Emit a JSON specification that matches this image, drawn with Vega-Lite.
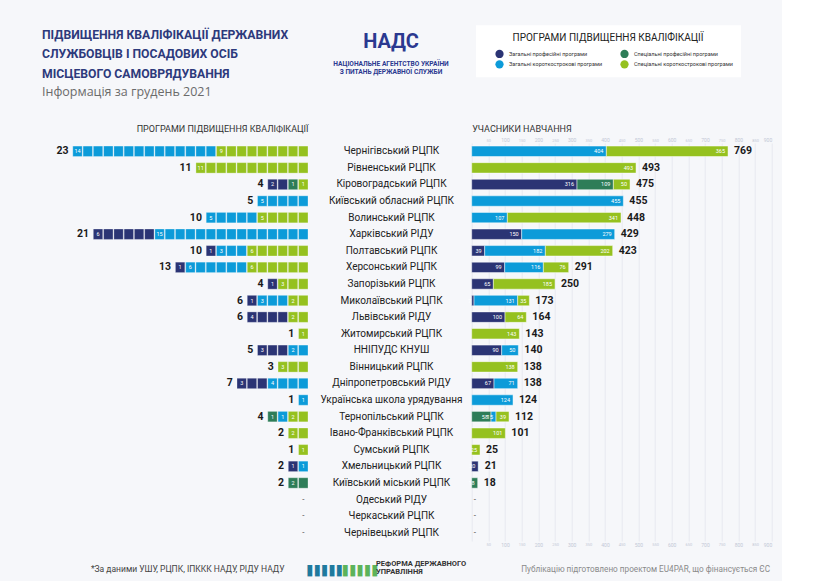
{
  "$schema": "https://vega.github.io/schema/vega-lite/v6.json",
  "background": "#f6f7fa",
  "padding": {"left": 42, "top": 25, "right": 10, "bottom": 5},
  "config": {"font": "Roboto", "view": {"stroke": null}},
  "title": {
    "text": ["ПІДВИЩЕННЯ КВАЛІФІКАЦІЇ ДЕРЖАВНИХ", "СЛУЖБОВЦІВ І ПОСАДОВИХ ОСІБ", "МІСЦЕВОГО САМОВРЯДУВАННЯ"],
    "subtitle": "Інформація за грудень 2021",
    "anchor": "start",
    "frame": "bounds",
    "orient": "top",
    "font": "Roboto",
    "fontSize": 12.2,
    "fontWeight": "bold",
    "color": "#2d3a7c",
    "lineHeight": 19.5,
    "subtitleFont": "Open Sans",
    "subtitleFontSize": 12.5,
    "subtitleColor": "#6b6b6b",
    "subtitlePadding": 6,
    "offset": -73
  },
  "datasets": {
    "cats": [
      {"c": "ЗП", "cat": "Загальні професійні програми", "k": 1},
      {"c": "СП", "cat": "Спеціальні професійні програми", "k": 2},
      {"c": "ЗК", "cat": "Загальні короткострокові програми", "k": 3},
      {"c": "СК", "cat": "Спеціальні короткострокові програми", "k": 4}
    ],
    "tot": [
      {"org": "Чернігівський РЦПК", "programs": 23, "participants": 769},
      {"org": "Рівненський РЦПК", "programs": 11, "participants": 493},
      {"org": "Кіровоградський РЦПК", "programs": 4, "participants": 475},
      {"org": "Київський обласний РЦПК", "programs": 5, "participants": 455},
      {"org": "Волинський РЦПК", "programs": 10, "participants": 448},
      {"org": "Харківський РІДУ", "programs": 21, "participants": 429},
      {"org": "Полтавський РЦПК", "programs": 10, "participants": 423},
      {"org": "Херсонський РЦПК", "programs": 13, "participants": 291},
      {"org": "Запорізький РЦПК", "programs": 4, "participants": 250},
      {"org": "Миколаївський РЦПК", "programs": 6, "participants": 173},
      {"org": "Львівський РІДУ", "programs": 6, "participants": 164},
      {"org": "Житомирський РЦПК", "programs": 1, "participants": 143},
      {"org": "ННІПУДС КНУШ", "programs": 5, "participants": 140},
      {"org": "Вінницький РЦПК", "programs": 3, "participants": 138},
      {"org": "Дніпропетровський РІДУ", "programs": 7, "participants": 138},
      {"org": "Українська школа урядування", "programs": 1, "participants": 124},
      {"org": "Тернопільський РЦПК", "programs": 4, "participants": 112},
      {"org": "Івано-Франківський РЦПК", "programs": 2, "participants": 101},
      {"org": "Сумський РЦПК", "programs": 1, "participants": 25},
      {"org": "Хмельницький РЦПК", "programs": 2, "participants": 21},
      {"org": "Київський міський РЦПК", "programs": 2, "participants": 18},
      {"org": "Одеський РІДУ", "programs": null, "participants": null},
      {"org": "Черкаський РЦПК", "programs": null, "participants": null},
      {"org": "Чернівецький РЦПК", "programs": null, "participants": null}
    ],
    "part": [
      {"org": "Чернігівський РЦПК", "c": "ЗК", "n": 404},
      {"org": "Чернігівський РЦПК", "c": "СК", "n": 365},
      {"org": "Рівненський РЦПК", "c": "СК", "n": 493},
      {"org": "Кіровоградський РЦПК", "c": "ЗП", "n": 316},
      {"org": "Кіровоградський РЦПК", "c": "СП", "n": 109},
      {"org": "Кіровоградський РЦПК", "c": "СК", "n": 50},
      {"org": "Київський обласний РЦПК", "c": "ЗК", "n": 455},
      {"org": "Волинський РЦПК", "c": "ЗК", "n": 107},
      {"org": "Волинський РЦПК", "c": "СК", "n": 341},
      {"org": "Харківський РІДУ", "c": "ЗП", "n": 150},
      {"org": "Харківський РІДУ", "c": "ЗК", "n": 279},
      {"org": "Полтавський РЦПК", "c": "ЗП", "n": 39},
      {"org": "Полтавський РЦПК", "c": "ЗК", "n": 182},
      {"org": "Полтавський РЦПК", "c": "СК", "n": 202},
      {"org": "Херсонський РЦПК", "c": "ЗП", "n": 99},
      {"org": "Херсонський РЦПК", "c": "ЗК", "n": 116},
      {"org": "Херсонський РЦПК", "c": "СК", "n": 76},
      {"org": "Запорізький РЦПК", "c": "ЗП", "n": 65},
      {"org": "Запорізький РЦПК", "c": "СК", "n": 185},
      {"org": "Миколаївський РЦПК", "c": "ЗП", "n": 7},
      {"org": "Миколаївський РЦПК", "c": "ЗК", "n": 131},
      {"org": "Миколаївський РЦПК", "c": "СК", "n": 35},
      {"org": "Львівський РІДУ", "c": "ЗП", "n": 100},
      {"org": "Львівський РІДУ", "c": "СК", "n": 64},
      {"org": "Житомирський РЦПК", "c": "СК", "n": 143},
      {"org": "ННІПУДС КНУШ", "c": "ЗП", "n": 90},
      {"org": "ННІПУДС КНУШ", "c": "ЗК", "n": 50},
      {"org": "Вінницький РЦПК", "c": "СК", "n": 138},
      {"org": "Дніпропетровський РІДУ", "c": "ЗП", "n": 67},
      {"org": "Дніпропетровський РІДУ", "c": "ЗК", "n": 71},
      {"org": "Українська школа урядування", "c": "ЗК", "n": 124},
      {"org": "Тернопільський РЦПК", "c": "СП", "n": 58},
      {"org": "Тернопільський РЦПК", "c": "ЗК", "n": 15},
      {"org": "Тернопільський РЦПК", "c": "СК", "n": 39},
      {"org": "Івано-Франківський РЦПК", "c": "СК", "n": 101},
      {"org": "Сумський РЦПК", "c": "СК", "n": 25},
      {"org": "Хмельницький РЦПК", "c": "ЗП", "n": 20},
      {"org": "Хмельницький РЦПК", "c": "ЗК", "n": 1},
      {"org": "Київський міський РЦПК", "c": "СП", "n": 18}
    ],
    "prog": [
      {"org": "Чернігівський РЦПК", "c": "ЗК"}, {"org": "Чернігівський РЦПК", "c": "ЗК"}, {"org": "Чернігівський РЦПК", "c": "ЗК"}, {"org": "Чернігівський РЦПК", "c": "ЗК"}, {"org": "Чернігівський РЦПК", "c": "ЗК"}, {"org": "Чернігівський РЦПК", "c": "ЗК"}, {"org": "Чернігівський РЦПК", "c": "ЗК"},
      {"org": "Чернігівський РЦПК", "c": "ЗК"}, {"org": "Чернігівський РЦПК", "c": "ЗК"}, {"org": "Чернігівський РЦПК", "c": "ЗК"}, {"org": "Чернігівський РЦПК", "c": "ЗК"}, {"org": "Чернігівський РЦПК", "c": "ЗК"}, {"org": "Чернігівський РЦПК", "c": "ЗК"}, {"org": "Чернігівський РЦПК", "c": "ЗК"},
      {"org": "Чернігівський РЦПК", "c": "СК"}, {"org": "Чернігівський РЦПК", "c": "СК"}, {"org": "Чернігівський РЦПК", "c": "СК"}, {"org": "Чернігівський РЦПК", "c": "СК"}, {"org": "Чернігівський РЦПК", "c": "СК"}, {"org": "Чернігівський РЦПК", "c": "СК"}, {"org": "Чернігівський РЦПК", "c": "СК"}, {"org": "Чернігівський РЦПК", "c": "СК"}, {"org": "Чернігівський РЦПК", "c": "СК"},
      {"org": "Рівненський РЦПК", "c": "СК"}, {"org": "Рівненський РЦПК", "c": "СК"}, {"org": "Рівненський РЦПК", "c": "СК"}, {"org": "Рівненський РЦПК", "c": "СК"}, {"org": "Рівненський РЦПК", "c": "СК"}, {"org": "Рівненський РЦПК", "c": "СК"}, {"org": "Рівненський РЦПК", "c": "СК"}, {"org": "Рівненський РЦПК", "c": "СК"}, {"org": "Рівненський РЦПК", "c": "СК"}, {"org": "Рівненський РЦПК", "c": "СК"}, {"org": "Рівненський РЦПК", "c": "СК"},
      {"org": "Кіровоградський РЦПК", "c": "ЗП"}, {"org": "Кіровоградський РЦПК", "c": "ЗП"}, {"org": "Кіровоградський РЦПК", "c": "СП"}, {"org": "Кіровоградський РЦПК", "c": "СК"},
      {"org": "Київський обласний РЦПК", "c": "ЗК"}, {"org": "Київський обласний РЦПК", "c": "ЗК"}, {"org": "Київський обласний РЦПК", "c": "ЗК"}, {"org": "Київський обласний РЦПК", "c": "ЗК"}, {"org": "Київський обласний РЦПК", "c": "ЗК"},
      {"org": "Волинський РЦПК", "c": "ЗК"}, {"org": "Волинський РЦПК", "c": "ЗК"}, {"org": "Волинський РЦПК", "c": "ЗК"}, {"org": "Волинський РЦПК", "c": "ЗК"}, {"org": "Волинський РЦПК", "c": "ЗК"},
      {"org": "Волинський РЦПК", "c": "СК"}, {"org": "Волинський РЦПК", "c": "СК"}, {"org": "Волинський РЦПК", "c": "СК"}, {"org": "Волинський РЦПК", "c": "СК"}, {"org": "Волинський РЦПК", "c": "СК"},
      {"org": "Харківський РІДУ", "c": "ЗП"}, {"org": "Харківський РІДУ", "c": "ЗП"}, {"org": "Харківський РІДУ", "c": "ЗП"}, {"org": "Харківський РІДУ", "c": "ЗП"}, {"org": "Харківський РІДУ", "c": "ЗП"}, {"org": "Харківський РІДУ", "c": "ЗП"},
      {"org": "Харківський РІДУ", "c": "ЗК"}, {"org": "Харківський РІДУ", "c": "ЗК"}, {"org": "Харківський РІДУ", "c": "ЗК"}, {"org": "Харківський РІДУ", "c": "ЗК"}, {"org": "Харківський РІДУ", "c": "ЗК"}, {"org": "Харківський РІДУ", "c": "ЗК"}, {"org": "Харківський РІДУ", "c": "ЗК"}, {"org": "Харківський РІДУ", "c": "ЗК"},
      {"org": "Харківський РІДУ", "c": "ЗК"}, {"org": "Харківський РІДУ", "c": "ЗК"}, {"org": "Харківський РІДУ", "c": "ЗК"}, {"org": "Харківський РІДУ", "c": "ЗК"}, {"org": "Харківський РІДУ", "c": "ЗК"}, {"org": "Харківський РІДУ", "c": "ЗК"}, {"org": "Харківський РІДУ", "c": "ЗК"},
      {"org": "Полтавський РЦПК", "c": "ЗП"}, {"org": "Полтавський РЦПК", "c": "ЗК"}, {"org": "Полтавський РЦПК", "c": "ЗК"}, {"org": "Полтавський РЦПК", "c": "ЗК"},
      {"org": "Полтавський РЦПК", "c": "СК"}, {"org": "Полтавський РЦПК", "c": "СК"}, {"org": "Полтавський РЦПК", "c": "СК"}, {"org": "Полтавський РЦПК", "c": "СК"}, {"org": "Полтавський РЦПК", "c": "СК"}, {"org": "Полтавський РЦПК", "c": "СК"},
      {"org": "Херсонський РЦПК", "c": "ЗП"}, {"org": "Херсонський РЦПК", "c": "ЗК"}, {"org": "Херсонський РЦПК", "c": "ЗК"}, {"org": "Херсонський РЦПК", "c": "ЗК"}, {"org": "Херсонський РЦПК", "c": "ЗК"}, {"org": "Херсонський РЦПК", "c": "ЗК"}, {"org": "Херсонський РЦПК", "c": "ЗК"},
      {"org": "Херсонський РЦПК", "c": "СК"}, {"org": "Херсонський РЦПК", "c": "СК"}, {"org": "Херсонський РЦПК", "c": "СК"}, {"org": "Херсонський РЦПК", "c": "СК"}, {"org": "Херсонський РЦПК", "c": "СК"}, {"org": "Херсонський РЦПК", "c": "СК"},
      {"org": "Запорізький РЦПК", "c": "ЗП"}, {"org": "Запорізький РЦПК", "c": "СК"}, {"org": "Запорізький РЦПК", "c": "СК"}, {"org": "Запорізький РЦПК", "c": "СК"},
      {"org": "Миколаївський РЦПК", "c": "ЗП"}, {"org": "Миколаївський РЦПК", "c": "ЗК"}, {"org": "Миколаївський РЦПК", "c": "ЗК"}, {"org": "Миколаївський РЦПК", "c": "ЗК"}, {"org": "Миколаївський РЦПК", "c": "СК"}, {"org": "Миколаївський РЦПК", "c": "СК"},
      {"org": "Львівський РІДУ", "c": "ЗП"}, {"org": "Львівський РІДУ", "c": "ЗП"}, {"org": "Львівський РІДУ", "c": "ЗП"}, {"org": "Львівський РІДУ", "c": "ЗП"}, {"org": "Львівський РІДУ", "c": "СК"}, {"org": "Львівський РІДУ", "c": "СК"},
      {"org": "Житомирський РЦПК", "c": "СК"},
      {"org": "ННІПУДС КНУШ", "c": "ЗП"}, {"org": "ННІПУДС КНУШ", "c": "ЗП"}, {"org": "ННІПУДС КНУШ", "c": "ЗП"}, {"org": "ННІПУДС КНУШ", "c": "ЗК"}, {"org": "ННІПУДС КНУШ", "c": "ЗК"},
      {"org": "Вінницький РЦПК", "c": "СК"}, {"org": "Вінницький РЦПК", "c": "СК"}, {"org": "Вінницький РЦПК", "c": "СК"},
      {"org": "Дніпропетровський РІДУ", "c": "ЗП"}, {"org": "Дніпропетровський РІДУ", "c": "ЗП"}, {"org": "Дніпропетровський РІДУ", "c": "ЗП"}, {"org": "Дніпропетровський РІДУ", "c": "ЗК"}, {"org": "Дніпропетровський РІДУ", "c": "ЗК"}, {"org": "Дніпропетровський РІДУ", "c": "ЗК"}, {"org": "Дніпропетровський РІДУ", "c": "ЗК"},
      {"org": "Українська школа урядування", "c": "ЗК"},
      {"org": "Тернопільський РЦПК", "c": "СП"}, {"org": "Тернопільський РЦПК", "c": "ЗК"}, {"org": "Тернопільський РЦПК", "c": "СК"}, {"org": "Тернопільський РЦПК", "c": "СК"},
      {"org": "Івано-Франківський РЦПК", "c": "СК"}, {"org": "Івано-Франківський РЦПК", "c": "СК"},
      {"org": "Сумський РЦПК", "c": "СК"},
      {"org": "Хмельницький РЦПК", "c": "ЗП"}, {"org": "Хмельницький РЦПК", "c": "ЗК"},
      {"org": "Київський міський РЦПК", "c": "СП"}, {"org": "Київський міський РЦПК", "c": "СП"}
    ]
  },
  "spacing": 163.7,
  "bounds": "flush",
  "resolve": {"scale": {"color": "shared"}, "legend": {"color": "shared"}},
  "hconcat": [
    {
      "width": 266,
      "height": 398,
      "title": {
        "text": "НАДС",
        "subtitle": ["НАЦІОНАЛЬНЕ АГЕНТСТВО УКРАЇНИ", "З ПИТАНЬ ДЕРЖАВНОЇ СЛУЖБИ"],
        "anchor": "middle",
        "frame": "group",
        "dx": 216,
        "offset": 49,
        "font": "Roboto",
        "fontSize": 20,
        "fontWeight": "bold",
        "color": "#2b3990",
        "subtitleFont": "Roboto",
        "subtitleFontSize": 6.6,
        "subtitleFontWeight": "bold",
        "subtitleColor": "#2b3990",
        "subtitleLineHeight": 7.5,
        "subtitlePadding": 9
      },
      "layer": [
        {
          "data": {"name": "prog"},
          "transform": [
            {"lookup": "c", "from": {"data": {"name": "cats"}, "key": "c", "fields": ["cat", "k"]}},
            {"window": [{"op": "row_number", "as": "rank"}], "groupby": ["org"], "sort": [{"field": "k", "order": "descending"}]}
          ],
          "mark": {"type": "rect", "stroke": "#ffffff", "strokeWidth": 0.6, "strokeOpacity": 0.5},
          "encoding": {
            "x": {
              "field": "rank", "type": "ordinal",
              "scale": {"domain": [1,2,3,4,5,6,7,8,9,10,11,12,13,14,15,16,17,18,19,20,21,22,23,24,25,26], "reverse": true, "paddingInner": 0.08, "paddingOuter": 0},
              "axis": {"orient": "top", "labels": false, "ticks": false, "domain": false, "grid": false,
                "title": "ПРОГРАМИ ПІДВИЩЕННЯ КВАЛІФІКАЦІЇ", "titleX": 266, "titleY": -11.5, "titleAlign": "right", "titleBaseline": "alphabetic", "titleAngle": 0,
                "titleFontSize": 9, "titleFontWeight": "normal", "titleColor": "#333333"}
            },
            "y": {
              "field": "org", "type": "nominal",
              "scale": {"domain": ["Чернігівський РЦПК","Рівненський РЦПК","Кіровоградський РЦПК","Київський обласний РЦПК","Волинський РЦПК","Харківський РІДУ","Полтавський РЦПК","Херсонський РЦПК","Запорізький РЦПК","Миколаївський РЦПК","Львівський РІДУ","Житомирський РЦПК","ННІПУДС КНУШ","Вінницький РЦПК","Дніпропетровський РІДУ","Українська школа урядування","Тернопільський РЦПК","Івано-Франківський РЦПК","Сумський РЦПК","Хмельницький РЦПК","Київський міський РЦПК","Одеський РІДУ","Черкаський РЦПК","Чернівецький РЦПК"], "paddingInner": 0.37, "paddingOuter": 0.185},
              "axis": {"orient": "left", "labels": false, "ticks": false, "domain": false, "grid": false,
                "title": "▋▋▋▋▋", "titleAngle": 0, "titleX": 265, "titleY": 430.9, "titleAlign": "left", "titleBaseline": "alphabetic",
                "titleFont": "DejaVu Sans", "titleFontSize": 9.6, "titleColor": "#1f7a9e", "titleFontWeight": "normal"}
            },
            "color": {
              "field": "cat", "type": "nominal",
              "scale": {"domain": ["Загальні професійні програми", "Загальні короткострокові програми", "Спеціальні професійні програми", "Спеціальні короткострокові програми"], "range": ["#2b3474", "#0c9bd9", "#2e7d58", "#95c11f"]},
              "legend": {
                "orient": "none", "legendX": 434, "legendY": -117.7,
                "title": "ПРОГРАМИ ПІДВИЩЕННЯ КВАЛІФІКАЦІЇ", "titleLimit": 400, "titleAnchor": "middle", "titleFontSize": 10, "titleFontWeight": "normal", "titleColor": "#222222", "titlePadding": 6,
                "columns": 2, "columnPadding": 6, "rowPadding": 1.5,
                "symbolType": "circle", "symbolSize": 68, "symbolStrokeWidth": 0, "symbolOpacity": 1, "symbolOffset": 11,
                "labelFontSize": 5.5, "labelColor": "#333333", "labelOffset": 5, "labelLimit": 200,
                "padding": 8, "fillColor": "#ffffff"
              }
            }
          }
        },
        {
          "data": {"name": "prog"},
          "transform": [
            {"lookup": "c", "from": {"data": {"name": "cats"}, "key": "c", "fields": ["cat", "k"]}},
            {"window": [{"op": "row_number", "as": "rank"}], "groupby": ["org"], "sort": [{"field": "k", "order": "descending"}]},
            {"joinaggregate": [{"op": "max", "field": "rank", "as": "maxr"}, {"op": "count", "as": "n"}], "groupby": ["org", "c"]},
            {"filter": "datum.rank === datum.maxr"}
          ],
          "mark": {"type": "text", "fontSize": 5.5, "color": "#ffffff", "align": "center", "baseline": "middle"},
          "encoding": {
            "x": {
              "field": "rank", "type": "ordinal",
              "axis": {"orient": "bottom", "labels": false, "ticks": false, "domain": false, "grid": false,
                "title": "*За даними УШУ, РЦПК, ІПККК НАДУ, РІДУ НАДУ", "titleX": 242, "titleY": 30.8, "titleAlign": "right", "titleBaseline": "alphabetic", "titleAngle": 0,
                "titleFontSize": 8.5, "titleFontWeight": "normal", "titleColor": "#444444"}
            },
            "y": {
              "field": "org", "type": "nominal",
              "axis": {"orient": "right", "labels": false, "ticks": false, "domain": false, "grid": false,
                "title": "▋▋▋▋▋", "titleAngle": 0, "titleX": 34.5, "titleY": 430.9, "titleAlign": "left", "titleBaseline": "alphabetic",
                "titleFont": "DejaVu Sans", "titleFontSize": 9.6, "titleColor": "#5cb35a", "titleFontWeight": "normal"}
            },
            "text": {"field": "n", "type": "quantitative"}
          }
        },
        {
          "data": {"name": "tot"},
          "transform": [{"filter": "datum.programs != null"}],
          "mark": {"type": "text", "align": "right", "baseline": "middle", "dx": -9, "fontSize": 10.5, "fontWeight": "bold", "color": "#1a1a1a"},
          "encoding": {
            "x": {"field": "programs", "type": "ordinal", "axis": null},
            "y": {"field": "org", "type": "nominal", "axis": null},
            "text": {"field": "programs", "type": "quantitative"}
          }
        },
        {
          "data": {"name": "tot"},
          "transform": [{"filter": "datum.programs == null"}],
          "mark": {"type": "text", "align": "center", "baseline": "middle", "fontSize": 8, "color": "#333333"},
          "encoding": {
            "x": {"datum": 1, "type": "ordinal", "axis": null},
            "y": {"field": "org", "type": "nominal", "axis": null},
            "text": {"value": "-"}
          }
        }
      ]
    },
    {
      "width": 300,
      "height": 398,
      "layer": [
        {
          "data": {"name": "part"},
          "transform": [
            {"lookup": "c", "from": {"data": {"name": "cats"}, "key": "c", "fields": ["cat", "k"]}},
            {"stack": "n", "groupby": ["org"], "sort": [{"field": "k", "order": "ascending"}], "as": ["s0", "s1"]}
          ],
          "mark": {"type": "bar", "stroke": "#ffffff", "strokeWidth": 0.8, "strokeOpacity": 0.6},
          "encoding": {
            "x": {
              "field": "s0", "type": "quantitative",
              "scale": {"domain": [0, 900], "nice": false},
              "axis": {"orient": "bottom", "values": [0,50,100,150,200,250,300,350,400,450,500,550,600,650,700,750,800,850,900],
                "grid": true, "gridColor": "#e3e6ee", "gridWidth": 0.8, "ticks": false, "domain": false,
                "labelExpr": "datum.value == 0 ? '' : datum.label", "labelPadding": 1,
                "labelFontSize": {"condition": {"test": "datum.value % 100 === 0", "value": 5}, "value": 4},
                "labelColor": "#c3c8d6",
                "title": "Публікацію підготовлено проектом EU4PAR, що фінансується ЄС", "titleX": 298, "titleY": 30.8, "titleAlign": "right", "titleBaseline": "alphabetic", "titleAngle": 0,
                "titleFontSize": 8.2, "titleFontWeight": "normal", "titleColor": "#8a8a8a"}
            },
            "x2": {"field": "s1"},
            "y": {
              "field": "org", "type": "nominal",
              "scale": {"domain": ["Чернігівський РЦПК","Рівненський РЦПК","Кіровоградський РЦПК","Київський обласний РЦПК","Волинський РЦПК","Харківський РІДУ","Полтавський РЦПК","Херсонський РЦПК","Запорізький РЦПК","Миколаївський РЦПК","Львівський РІДУ","Житомирський РЦПК","ННІПУДС КНУШ","Вінницький РЦПК","Дніпропетровський РІДУ","Українська школа урядування","Тернопільський РЦПК","Івано-Франківський РЦПК","Сумський РЦПК","Хмельницький РЦПК","Київський міський РЦПК","Одеський РІДУ","Черкаський РЦПК","Чернівецький РЦПК"], "paddingInner": 0.37, "paddingOuter": 0.185},
              "axis": {"orient": "left", "labelAlign": "center", "labelBaseline": "middle", "labelPadding": 80.7, "tickSize": 0, "ticks": false, "domain": false, "grid": false,
                "labelFontSize": 10, "labelColor": "#222222", "labelLimit": 200,
                "title": "РЕФОРМА ДЕРЖАВНОГО", "titleAngle": 0, "titleX": -96.2, "titleY": 422.8, "titleAlign": "left", "titleBaseline": "alphabetic",
                "titleFontSize": 7.5, "titleFontWeight": "bold", "titleColor": "#333333"}
            },
            "color": {
              "field": "cat", "type": "nominal",
              "scale": {"domain": ["Загальні професійні програми", "Загальні короткострокові програми", "Спеціальні професійні програми", "Спеціальні короткострокові програми"], "range": ["#2b3474", "#0c9bd9", "#2e7d58", "#95c11f"]},
              "legend": {
                "orient": "none", "legendX": 434, "legendY": -117.7,
                "title": "ПРОГРАМИ ПІДВИЩЕННЯ КВАЛІФІКАЦІЇ", "titleLimit": 400, "titleAnchor": "middle", "titleFontSize": 10, "titleFontWeight": "normal", "titleColor": "#222222", "titlePadding": 6,
                "columns": 2, "columnPadding": 6, "rowPadding": 1.5,
                "symbolType": "circle", "symbolSize": 68, "symbolStrokeWidth": 0, "symbolOpacity": 1, "symbolOffset": 11,
                "labelFontSize": 5.5, "labelColor": "#333333", "labelOffset": 5, "labelLimit": 200,
                "padding": 8, "fillColor": "#ffffff"
              }
            }
          }
        },
        {
          "data": {"name": "part"},
          "transform": [
            {"lookup": "c", "from": {"data": {"name": "cats"}, "key": "c", "fields": ["cat", "k"]}},
            {"stack": "n", "groupby": ["org"], "sort": [{"field": "k", "order": "ascending"}], "as": ["s0", "s1"]},
            {"filter": "datum.n >= 5"}
          ],
          "mark": {"type": "text", "align": "right", "baseline": "middle", "dx": -3, "fontSize": 5.5, "color": "#ffffff"},
          "encoding": {
            "x": {
              "field": "s1", "type": "quantitative",
              "axis": {"orient": "top", "values": [0,50,100,150,200,250,300,350,400,450,500,550,600,650,700,750,800,850,900],
                "grid": false, "ticks": false, "domain": false,
                "labelExpr": "datum.value == 0 ? '' : datum.label", "labelPadding": 1,
                "labelFontSize": {"condition": {"test": "datum.value % 100 === 0", "value": 5}, "value": 4},
                "labelColor": "#c3c8d6",
                "title": "УЧАСНИКИ НАВЧАННЯ", "titleX": 0, "titleY": -11.5, "titleAlign": "left", "titleBaseline": "alphabetic", "titleAngle": 0,
                "titleFontSize": 9, "titleFontWeight": "normal", "titleColor": "#333333"}
            },
            "y": {"field": "org", "type": "nominal", "axis": null},
            "text": {"field": "n", "type": "quantitative"}
          }
        },
        {
          "data": {"name": "tot"},
          "transform": [{"filter": "datum.participants != null"}],
          "mark": {"type": "text", "align": "left", "baseline": "middle", "dx": 6, "fontSize": 10.5, "fontWeight": "bold", "color": "#1a1a1a"},
          "encoding": {
            "x": {"field": "participants", "type": "quantitative", "axis": null},
            "y": {
              "field": "org", "type": "nominal",
              "axis": {"orient": "right", "labels": false, "ticks": false, "domain": false, "grid": false,
                "title": "УПРАВЛІННЯ", "titleAngle": 0, "titleX": -396.2, "titleY": 430.8, "titleAlign": "left", "titleBaseline": "alphabetic",
                "titleFontSize": 7.5, "titleFontWeight": "bold", "titleColor": "#333333"}
            },
            "text": {"field": "participants", "type": "quantitative"}
          }
        },
        {
          "data": {"name": "tot"},
          "transform": [{"filter": "datum.participants == null"}],
          "mark": {"type": "text", "align": "left", "baseline": "middle", "dx": 2, "fontSize": 8, "color": "#333333"},
          "encoding": {
            "x": {"datum": 0, "type": "quantitative", "axis": null},
            "y": {"field": "org", "type": "nominal", "axis": null},
            "text": {"value": "-"}
          }
        }
      ]
    }
  ]
}
